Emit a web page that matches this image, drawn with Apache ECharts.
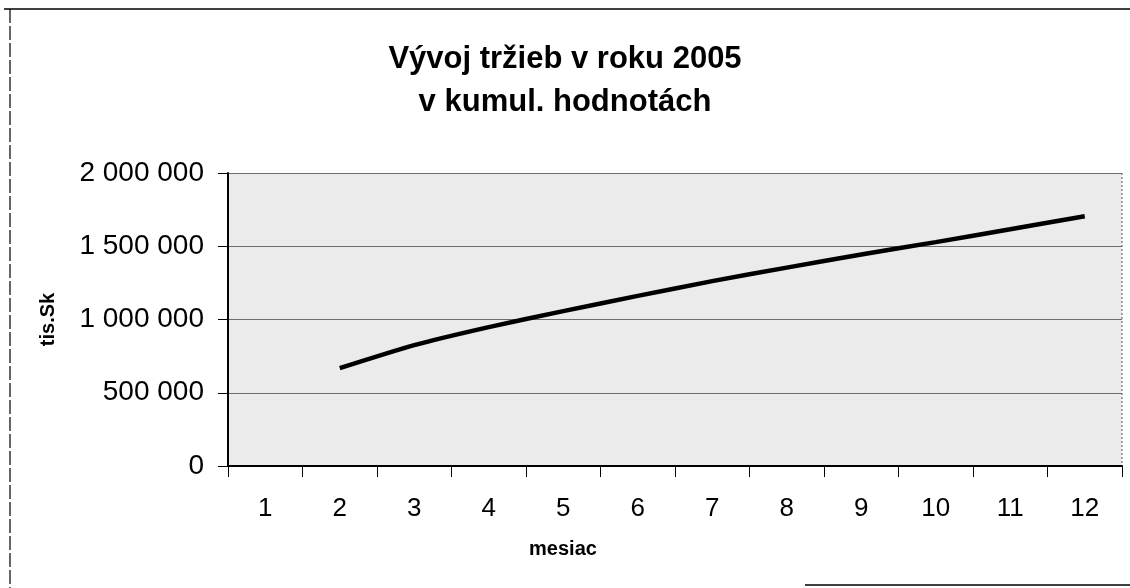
<!DOCTYPE html>
<html>
<head>
<meta charset="utf-8">
<script src="https://cdn.jsdelivr.net/npm/echarts@6/dist/echarts.min.js"></script>
<style>
html,body{margin:0;padding:0;background:#fff;}
#c{width:1130px;height:588px;}
</style>
</head>
<body>
<div id="c"></div>
<script>
var titleLines = ['Vývoj tržieb v roku 2005', 'v kumul. hodnotách'];
var months = ['1','2','3','4','5','6','7','8','9','10','11','12'];
var cumulativeSales = [null, 668000, 825000, 948000, 1057000, 1161000, 1262000, 1354000, 1444000, 1528000, 1616000, 1705000];
var yMin = 0, yMax = 2000000, yStep = 500000;
var yName = 'tis.Sk';
var xName = 'mesiac';

function fmt(v){ return String(v).replace(/\B(?=(\d{3})+(?!\d))/g, ' '); }

var chart = echarts.init(document.getElementById('c'), null, {renderer:'canvas'});
var font = '"Liberation Sans", Arial, sans-serif';
chart.setOption({
  backgroundColor: '#ffffff',
  animation: false,
  textStyle: {fontFamily: font, color: '#000'},
  title: {
    text: titleLines.join('\n'),
    left: 'center',
    top: 33,
    textStyle: {fontFamily: font, fontSize: 31, fontWeight: 'bold', color: '#000', lineHeight: 43}
  },
  grid: {
    left: 228, right: 8, top: 173, bottom: 122,
    show: true, backgroundColor: '#ebebeb', borderWidth: 0
  },
  xAxis: {
    type: 'category',
    data: months,
    boundaryGap: true,
    name: xName,
    nameLocation: 'middle',
    nameGap: 73,
    nameTextStyle: {fontFamily: font, fontSize: 20, fontWeight: 'bold', color: '#000', padding: [0, 224, 0, 0]},
    axisLine: {show: true, lineStyle: {color: '#000', width: 2}},
    axisTick: {show: true, inside: false, length: 11, lineStyle: {color: '#000', width: 1}},
    axisLabel: {fontFamily: font, fontSize: 26, color: '#000', margin: 30},
    splitLine: {show: false}
  },
  yAxis: {
    type: 'value',
    min: yMin, max: yMax, interval: yStep,
    name: yName,
    nameLocation: 'middle',
    nameGap: 170,
    nameRotate: 90,
    nameTextStyle: {fontFamily: font, fontSize: 20, fontWeight: 'bold', color: '#000'},
    axisLine: {show: true, lineStyle: {color: '#000', width: 2}},
    axisTick: {show: true, inside: false, length: 10, lineStyle: {color: '#000', width: 1}},
    axisLabel: {fontFamily: font, fontSize: 28, color: '#000', margin: 24, formatter: fmt},
    splitLine: {show: true, lineStyle: {color: '#6e6e6e', width: 1.2}}
  },
  series: [{
    type: 'line',
    data: cumulativeSales,
    showSymbol: false,
    symbol: 'none',
    smooth: 0.2,
    lineStyle: {color: '#000', width: 4.5},
    z: 5
  }],
  graphic: [
    {type: 'line', shape: {x1: 4, y1: 9, x2: 1130, y2: 9}, style: {stroke: '#000', lineWidth: 1.5}},
    {type: 'line', shape: {x1: 10, y1: 9, x2: 10, y2: 588}, style: {stroke: '#000', lineWidth: 1.2, lineDash: [14, 3]}},
    {type: 'line', shape: {x1: 805, y1: 585, x2: 1130, y2: 585}, style: {stroke: '#000', lineWidth: 1.5}},
    {type: 'line', shape: {x1: 1122, y1: 173, x2: 1122, y2: 466}, style: {stroke: '#555', lineWidth: 1, lineDash: [2, 2]}}
  ]
});
</script>
</body>
</html>
